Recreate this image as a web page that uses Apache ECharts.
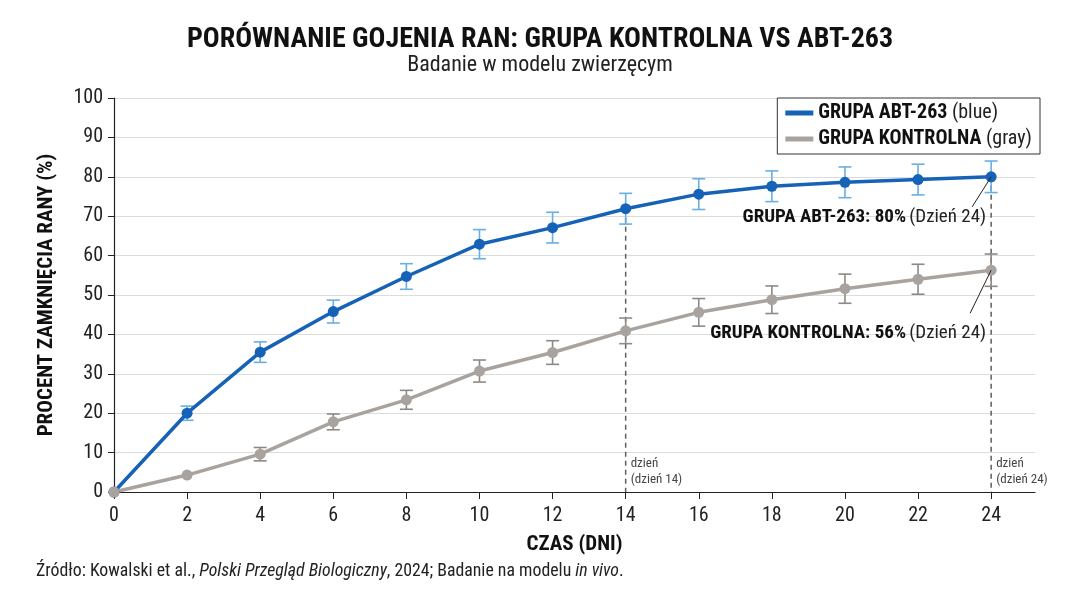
<!DOCTYPE html>
<html>
<head>
<meta charset="utf-8">
<script src="https://cdn.jsdelivr.net/npm/echarts@6/dist/echarts.min.js"></script>
<style>
html,body{margin:0;padding:0;background:#fff;}
#chart{width:1080px;height:589px;}
</style>
</head>
<body>
<div id="chart"></div>
<script>
// ---- data ----
const days = [0, 2, 4, 6, 8, 10, 12, 14, 16, 18, 20, 22, 24];
const abtValues = [0, 20.0, 35.5, 45.8, 54.7, 62.9, 67.1, 71.9, 75.6, 77.6, 78.6, 79.3, 80.0];
const abtErrors = [null, 1.8, 2.6, 2.9, 3.25, 3.7, 3.9, 3.9, 3.9, 3.9, 3.9, 3.9, 4.0];
const ctrlValues = [0, 4.3, 9.6, 17.8, 23.4, 30.7, 35.4, 40.9, 45.6, 48.8, 51.6, 54.0, 56.3];
const ctrlErrors = [null, null, 1.7, 2.0, 2.4, 2.8, 3.0, 3.25, 3.5, 3.5, 3.7, 3.8, 4.1];
const seriesNames = ['GRUPA ABT-263', 'GRUPA KONTROLNA'];
const legendSuffix = ['(blue)', '(gray)'];
const xTicks = [0, 2, 4, 6, 8, 10, 12, 14, 16, 18, 20, 22, 24];
const markerDays = [14, 24];
const annotationDays = [24, 24];
const annotationValues = [80, 56.3];
const annotationBold = ['GRUPA ABT-263: 80%', 'GRUPA KONTROLNA: 56%'];
const annotationNormal = ['(Dzień 24)', '(Dzień 24)'];

// ---- styling ----
const annotationLayout = [{dx: -19, dy: 30, ty: 40}, {dx: -21, dy: 43, ty: 63}];
const FONT = "'Roboto Condensed','Liberation Sans Narrow','Roboto',sans-serif";
const BLUE = '#1562b7';
const BLUE_ERR = '#6aaee3';
const GRAY = '#a8a39e';
const GRAY_ERR = '#8e8984';

function pairs(vals){ return days.map((d,i)=>[d, vals[i]]); }
function errData(vals, errs){
  const out = [];
  days.forEach((d,i)=>{ if (errs[i] != null) out.push([d, vals[i]-errs[i], vals[i]+errs[i]]); });
  return out;
}
function errRender(color){
  return function(params, api){
    const x = api.value(0);
    const lo = api.coord([x, api.value(1)]);
    const hi = api.coord([x, api.value(2)]);
    const hw = 6.5;
    const st = {stroke: color, lineWidth: 1.6};
    return {type:'group', children:[
      {type:'line', shape:{x1:lo[0], y1:lo[1], x2:hi[0], y2:hi[1]}, style:st},
      {type:'line', shape:{x1:lo[0]-hw, y1:lo[1], x2:lo[0]+hw, y2:lo[1]}, style:st},
      {type:'line', shape:{x1:hi[0]-hw, y1:hi[1], x2:hi[0]+hw, y2:hi[1]}, style:st}
    ]};
  };
}

const vlineData = markerDays.map(d => [d, abtValues[days.indexOf(d)]]);

const chart = echarts.init(document.getElementById('chart'), null, {renderer:'canvas'});
chart.setOption({
  animation: false,
  backgroundColor: '#fff',
  textStyle: {fontFamily: FONT},
  title: {
    text: 'PORÓWNANIE GOJENIA RAN: GRUPA KONTROLNA VS ABT-263',
    subtext: 'Badanie w modelu zwierzęcym',
    left: 'center', top: 21,
    itemGap: 0,
    textStyle: {fontFamily: FONT, fontSize: 28, fontWeight: 'bold', color: '#111'},
    subtextStyle: {fontFamily: FONT, fontSize: 22, color: '#222'}
  },
  legend: {
    data: seriesNames,
    orient: 'vertical',
    right: 40, top: 98,
    backgroundColor: '#fff',
    borderColor: '#333', borderWidth: 1,
    padding: [5, 8, 5, 8],
    itemGap: 6,
    icon: 'rect', itemWidth: 28, itemHeight: 5,
    formatter: function(name){
      const i = seriesNames.indexOf(name);
      return '{b|' + name + '} {n|' + legendSuffix[i] + '}';
    },
    textStyle: {
      fontFamily: FONT, fontSize: 20, color: '#111',
      rich: {
        b: {fontFamily: FONT, fontSize: 20, fontWeight: 'bold', color: '#111'},
        n: {fontFamily: FONT, fontSize: 20, color: '#222'}
      }
    }
  },
  grid: {left: 114, right: 45, top: 98, bottom: 97, containLabel: false},
  xAxis: {
    type: 'value', min: 0, max: 25.2,
    name: 'CZAS (DNI)', nameLocation: 'middle', nameGap: 42,
    nameTextStyle: {fontFamily: FONT, fontSize: 21, fontWeight: 'bold', color: '#111'},
    axisLine: {show: true, lineStyle: {color: '#222', width: 1.2}},
    axisTick: {show: true, customValues: xTicks, length: 7, lineStyle: {color: '#222'}},
    axisLabel: {customValues: xTicks, fontFamily: FONT, fontSize: 20, color: '#222', margin: 14},
    splitLine: {show: false}
  },
  yAxis: {
    type: 'value', min: 0, max: 100, interval: 10,
    name: 'PROCENT ZAMKNIĘCIA RANY (%)', nameLocation: 'middle', nameGap: 57, nameRotate: 90,
    nameTextStyle: {fontFamily: FONT, fontSize: 21, fontWeight: 'bold', color: '#111'},
    axisLine: {show: true, lineStyle: {color: '#222', width: 1.2}},
    axisTick: {show: true, length: 6, lineStyle: {color: '#222'}},
    axisLabel: {fontFamily: FONT, fontSize: 20, color: '#222', margin: 11},
    splitLine: {show: true, lineStyle: {color: '#dcdcdc', width: 1.2}}
  },
  series: [
    {
      type: 'custom', name: 'vlines', silent: true, z: 1,
      data: vlineData,
      renderItem: function(params, api){
        const d = api.value(0);
        const top = api.coord([d, api.value(1)]);
        const bot = api.coord([d, 0]);
        return {type:'group', children:[
          {type:'line', shape:{x1:top[0], y1:top[1], x2:bot[0], y2:bot[1]},
           style:{stroke:'#5e5e5e', lineWidth:1.5, lineDash:[5,4]}},
          {type:'text', x: bot[0]+5, y: bot[1]-4,
           style:{text:'dzień\n(dzień ' + d + ')', fontFamily: FONT, fontSize: 13, fill:'#444',
                  align:'left', verticalAlign:'bottom', lineHeight: 16}}
        ]};
      }
    },
    {
      type: 'custom', name: 'abtErr', silent: true, z: 2,
      data: errData(abtValues, abtErrors), renderItem: errRender(BLUE_ERR)
    },
    {
      type: 'custom', name: 'ctrlErr', silent: true, z: 2,
      data: errData(ctrlValues, ctrlErrors), renderItem: errRender(GRAY_ERR)
    },
    {
      name: seriesNames[0], type: 'line', z: 3,
      data: pairs(abtValues),
      color: BLUE,
      lineStyle: {color: BLUE, width: 3.5},
      itemStyle: {color: BLUE},
      symbol: 'circle', symbolSize: 11, showAllSymbol: true
    },
    {
      name: seriesNames[1], type: 'line', z: 3,
      data: pairs(ctrlValues),
      color: GRAY,
      lineStyle: {color: GRAY, width: 3.5},
      itemStyle: {color: GRAY},
      symbol: 'circle', symbolSize: 11, showAllSymbol: true
    },
    {
      type: 'custom', name: 'annot', silent: true, z: 4,
      data: annotationDays.map((d,i) => [d, annotationValues[i]]),
      renderItem: function(params, api){
        const i = params.dataIndex;
        const L = annotationLayout[i];
        const p = api.coord([api.value(0), api.value(1)]);
        return {type:'group', children:[
          {type:'line', shape:{x1:p[0], y1:p[1], x2:p[0]+L.dx, y2:p[1]+L.dy}, style:{stroke:'#222', lineWidth:1}},
          {type:'text', x: p[0]-5, y: p[1]+L.ty,
           style:{text: '{b|' + annotationBold[i] + '} {n|' + annotationNormal[i] + '}', align:'right', verticalAlign:'middle',
                  rich:{
                    b:{fontFamily: FONT, fontSize: 19, fontWeight:'bold', fill:'#111'},
                    n:{fontFamily: FONT, fontSize: 19, fill:'#222'}
                  }}}
        ]};
      }
    }
  ],
  graphic: [{
    type: 'text', left: 36, top: 563,
    style: {
      text: '{n|Źródło: Kowalski et al., }{i|Polski Przegląd Biologiczny}{n|, 2024; Badanie na modelu }{i|in vivo}{n|.}',
      rich: {
        n: {fontFamily: FONT, fontSize: 17.8, fill: '#222'},
        i: {fontFamily: FONT, fontSize: 17.8, fontStyle: 'italic', fill: '#222'}
      }
    }
  }]
});
</script>
</body>
</html>
